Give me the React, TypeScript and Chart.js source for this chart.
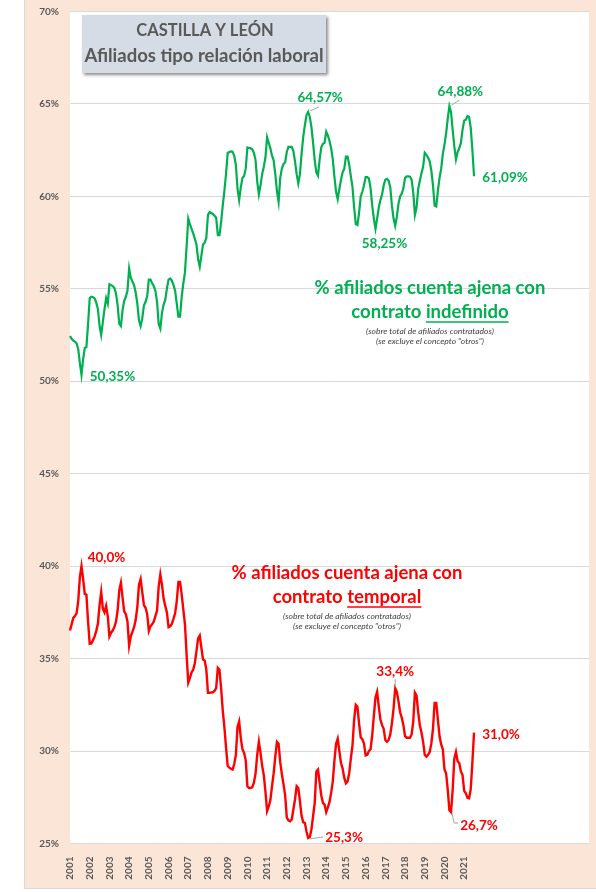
import React, { useEffect, useRef } from 'react';
import { Chart, registerables } from 'chart.js';

Chart.register(...registerables);

// ---------- DATA ----------
const years = ['2001','2002','2003','2004','2005','2006','2007','2008','2009','2010','2011','2012','2013','2014','2015','2016','2017','2018','2019','2020','2021'];
const axisSlots = 317; // monthly category slots on the axis (Excel axis runs beyond the data)

// % afiliados cuenta ajena con contrato indefinido (monthly, Jan 2001 - Jul 2021)
const indefinido = [
  52.45, 52.3, 52.2, 52.15, 52.05, 51.75, 51.0, 50.35, 51.2, 51.8, 51.85, 53.1,
  54.5, 54.57, 54.55, 54.48, 54.25, 53.9, 53.0, 52.5, 53.2, 53.9, 54.5, 54.2,
  55.25, 55.2, 55.15, 55.05, 54.75, 54.1, 53.1, 52.98, 53.85, 54.35, 54.57, 54.9,
  56.1, 55.6, 55.4, 55.2, 54.8, 54.2, 53.3, 52.98, 53.4, 54.1, 54.3, 54.6,
  55.5, 55.5, 55.3, 55.15, 54.9, 54.3, 53.1, 52.85, 53.7, 54.15, 54.4, 55.0,
  55.5, 55.56, 55.45, 55.2, 54.9, 54.2, 53.5, 53.5, 54.57, 55.3, 55.9, 57.3,
  58.8, 58.5, 58.25, 58.0, 57.7, 57.4, 56.6, 56.2, 56.8, 57.4, 57.5, 57.75,
  59.0, 59.15, 59.1, 59.05, 58.95, 58.85, 57.9, 57.9, 58.6, 59.5, 60.3, 61.2,
  62.35, 62.4, 62.43, 62.42, 62.2, 61.7, 60.4, 59.8, 60.5, 61.0, 61.1, 61.5,
  62.65, 62.62, 62.6, 62.55, 62.35, 61.95, 60.8, 60.1, 60.6, 61.2, 61.6, 62.1,
  63.2, 62.9, 62.6, 62.2, 61.95, 61.2, 60.3, 59.7, 61.0, 61.5, 61.75, 61.85,
  62.4, 62.68, 62.68, 62.68, 62.45, 61.9, 61.2, 60.7, 61.2, 62.3, 63.2, 63.85,
  64.4, 64.57, 64.3, 63.75, 62.9, 61.95, 61.3, 61.12, 62.0, 62.65, 62.85, 62.9,
  63.5, 63.3, 63.0, 62.6, 62.0, 61.05, 60.25, 59.85, 60.4, 60.9, 61.3, 61.5,
  62.15, 62.15, 61.7, 61.1, 60.5, 59.4, 58.5, 58.45, 59.1, 60.0, 60.25, 60.6,
  61.05, 61.05, 60.96, 60.45, 59.5, 58.8, 58.25, 58.8, 59.4, 59.8, 60.1, 60.6,
  60.9, 60.95, 60.85, 60.5, 59.5, 58.8, 58.4, 58.9, 59.6, 60.0, 60.15, 60.45,
  61.0, 61.08, 61.08, 61.06, 60.9, 60.2, 59.0, 59.4, 60.4, 60.85, 61.25, 61.6,
  62.36, 62.25, 62.1, 61.9, 61.4, 60.6, 59.5, 59.45, 60.3, 61.0, 61.5, 62.3,
  62.8, 63.4, 64.2, 64.88, 64.55, 63.6, 62.7, 62.0, 62.4, 62.6, 62.9, 63.6,
  64.1, 64.15, 64.35, 64.3, 63.7, 62.5, 61.09,
];

// % afiliados cuenta ajena con contrato temporal
const temporal = [
  36.52, 36.85, 37.2, 37.3, 37.45, 38.1, 39.4, 40.0, 39.3, 38.5, 38.45, 37.0,
  35.8, 35.82, 36.0, 36.2, 36.5, 36.9, 37.9, 38.6, 37.7, 37.5, 37.85, 37.3,
  36.2, 36.4, 36.52, 36.7, 37.0, 37.6, 38.7, 39.1, 38.3, 37.55, 37.4, 37.0,
  35.7, 36.2, 36.45, 36.7, 37.1, 37.8, 39.0, 39.3, 38.6, 37.9, 37.75, 37.4,
  36.5, 36.75, 36.85, 37.0, 37.3, 37.6, 38.9, 39.55, 39.0, 38.25, 37.85, 37.5,
  36.7, 36.75, 36.88, 37.15, 37.45, 38.1, 39.15, 39.15, 38.47, 37.65, 36.85, 35.2,
  33.7, 33.95, 34.25, 34.4, 34.75, 35.4, 36.1, 36.25, 35.58, 34.95, 34.9, 34.4,
  33.15, 33.15, 33.17, 33.18, 33.25, 33.4, 34.5, 34.4, 33.4, 32.2, 31.3, 30.2,
  29.2, 29.1, 29.04, 29.0, 29.3, 29.8, 31.3, 31.6, 30.7, 30.1, 29.9, 29.5,
  28.1, 28.0, 28.0, 28.05, 28.3, 28.8, 29.8, 30.5, 29.9, 29.2, 28.7, 27.8,
  26.75, 27.0, 27.35, 28.1, 28.8, 29.7, 30.5, 30.4, 29.4, 28.75, 28.2, 27.6,
  26.4, 26.25, 26.2, 26.3, 26.84, 27.38, 28.1, 28.0, 27.3, 26.5, 26.15, 26.12,
  25.65, 25.3, 25.35, 25.76, 26.48, 27.2, 28.9, 29.0, 28.3, 27.6, 27.2, 27.1,
  26.7, 26.95, 27.25, 27.74, 28.35, 29.5, 30.4, 30.67, 30.0, 29.35, 29.05, 28.55,
  28.25, 28.35, 28.8, 29.6, 30.3, 31.7, 32.5, 32.4, 31.5, 30.75, 30.63, 30.4,
  29.77, 29.8, 30.0, 30.1, 30.85, 31.9, 32.9, 33.2, 32.4, 31.7, 31.4, 31.2,
  30.6, 30.5, 30.6, 30.9, 31.5, 32.3, 33.4, 33.2, 32.7, 32.1, 31.8, 31.4,
  30.8, 30.72, 30.72, 30.72, 30.9, 31.6, 33.16, 33.0, 32.1, 31.4, 31.0, 30.5,
  29.8, 29.7, 29.8, 29.95, 30.4, 31.2, 32.6, 32.6, 31.7, 30.8, 30.36, 30.1,
  29.0, 28.8, 27.9, 26.8, 26.7, 27.9, 29.6, 29.95, 29.45, 29.35, 28.9, 28.7,
  27.85, 27.72, 27.47, 27.45, 27.95, 29.4, 31.0,
];

const yMin = 25;
const yMax = 70;
const yStep = 5;

// indices of labelled points
const greenCalloutIdx = [145, 231, 246, 186, 7];
const redCalloutIdx = [7, 198, 246, 232, 145];

// ---------- STYLE ----------
const GREEN = '#00B050';
const RED = '#FF0000';
const GREY = '#595959';
const FONT = 'Lato, "Open Sans", sans-serif';

const greenCallouts = [
  { idx: greenCalloutIdx[0], dx: 12, dy: -14, leader: [[2, -1], [11, -5]] },
  { idx: greenCalloutIdx[1], dx: 11, dy: -15, leader: [[2, -1], [10, -6]] },
  { idx: greenCalloutIdx[2], dx: 31, dy: 1, leader: null },
  { idx: greenCalloutIdx[3], dx: 9, dy: 15, leader: null },
  { idx: greenCalloutIdx[4], dx: 31, dy: 2, leader: null },
];
const redCallouts = [
  { idx: redCalloutIdx[0], dx: 25, dy: -9, leader: null },
  { idx: redCalloutIdx[1], dx: 0, dy: -17, leader: [[0, -1], [0, -9]] },
  { idx: redCalloutIdx[2], dx: 27, dy: 2, leader: null },
  { idx: redCalloutIdx[3], dx: 28, dy: 14, leader: [[1, 1], [3, 11], [7, 11]] },
  { idx: redCalloutIdx[4], dx: 36, dy: 0, leader: [[1, 1], [15, -1]] },
];

const fmt = (v: number, d: number) => v.toFixed(d).replace('.', ',') + '%';

const decorPlugin = {
  id: 'decor',
  beforeDraw(chart: any) {
    const { ctx, chartArea, width, height } = chart;
    ctx.save();
    ctx.fillStyle = '#FFFFFF';
    ctx.fillRect(0, 0, width, height);
    ctx.fillStyle = '#FBE5D6';
    ctx.fillRect(24, 0, width - 24, 888);
    ctx.strokeStyle = '#D9D9D9';
    ctx.lineWidth = 1;
    ctx.beginPath();
    ctx.moveTo(24.5, 0);
    ctx.lineTo(24.5, 888.5);
    ctx.lineTo(width, 888.5);
    ctx.stroke();
    ctx.fillStyle = '#FFFFFF';
    ctx.fillRect(chartArea.left, chartArea.top, chartArea.right - chartArea.left, chartArea.bottom - chartArea.top);
    ctx.restore();
  },
  afterDatasetsDraw(chart: any) {
    const { ctx } = chart;
    const drawSet = (dsIndex: number, callouts: any[], color: string, values: number[], dec: number) => {
      const meta = chart.getDatasetMeta(dsIndex);
      callouts.forEach((c) => {
        const p = meta.data[c.idx];
        if (!p) return;
        const x = p.x, y = p.y;
        if (c.leader) {
          ctx.save();
          ctx.strokeStyle = '#A6A6A6';
          ctx.lineWidth = 1;
          ctx.beginPath();
          c.leader.forEach((pt: number[], k: number) => {
            if (k === 0) ctx.moveTo(x + pt[0], y + pt[1]);
            else ctx.lineTo(x + pt[0], y + pt[1]);
          });
          ctx.stroke();
          ctx.restore();
        }
        ctx.save();
        ctx.fillStyle = color;
        ctx.font = `bold 13.5px ${FONT}`;
        ctx.textAlign = 'center';
        ctx.textBaseline = 'middle';
        ctx.fillText(fmt(values[c.idx], dec), x + c.dx, y + c.dy);
        ctx.restore();
      });
    };
    drawSet(0, greenCallouts, GREEN, indefinido, 2);
    drawSet(1, redCallouts, RED, temporal, 1);
  },
  afterDraw(chart: any) {
    const { ctx } = chart;
    ctx.save();
    // title box with shadow
    ctx.shadowColor = 'rgba(0,0,0,0.45)';
    ctx.shadowOffsetX = 2;
    ctx.shadowOffsetY = 2;
    ctx.shadowBlur = 3;
    ctx.fillStyle = '#D6DCE5';
    ctx.fillRect(82, 15, 244, 58);
    ctx.restore();

    ctx.save();
    ctx.fillStyle = GREY;
    ctx.textAlign = 'center';
    ctx.textBaseline = 'middle';
    ctx.font = `bold 16.5px ${FONT}`;
    ctx.fillText('CASTILLA Y LEÓN', 205, 31);
    ctx.font = `bold 18.5px ${FONT}`;
    ctx.fillText('Afiliados tipo relación laboral', 204, 56);
    ctx.restore();

    const block = (cx: number, y1: number, color: string, word: string) => {
      ctx.save();
      ctx.fillStyle = color;
      ctx.strokeStyle = color;
      ctx.textBaseline = 'middle';
      ctx.textAlign = 'center';
      ctx.font = `bold 18.5px ${FONT}`;
      ctx.fillText('% afiliados cuenta ajena con', cx, y1);
      const a = 'contrato ';
      const wa = ctx.measureText(a).width;
      const wb = ctx.measureText(word).width;
      const start = cx - (wa + wb) / 2;
      ctx.textAlign = 'left';
      ctx.fillText(a, start, y1 + 24);
      ctx.fillText(word, start + wa, y1 + 24);
      ctx.lineWidth = 1.5;
      ctx.beginPath();
      ctx.moveTo(start + wa, y1 + 34);
      ctx.lineTo(start + wa + wb, y1 + 34);
      ctx.stroke();
      ctx.fillStyle = '#404040';
      ctx.textAlign = 'center';
      ctx.font = `italic 8.5px ${FONT}`;
      ctx.fillText('(sobre total de afiliados contratados)', cx, y1 + 43);
      ctx.fillText('(se excluye el concepto "otros")', cx, y1 + 53);
      ctx.restore();
    };
    block(430, 288, GREEN, 'indefinido');
    block(347, 573, RED, 'temporal');
  },
};

export default function App() {
  const ref = useRef<HTMLCanvasElement | null>(null);
  useEffect(() => {
    if (!ref.current) return;
    const labels = Array.from({ length: axisSlots }, (_, i) =>
      i % 12 === 0 && years[i / 12] ? years[i / 12] : ''
    );
    const chart = new Chart(ref.current, {
      type: 'line',
      data: {
        labels,
        datasets: [
          {
            label: 'indefinido',
            data: indefinido,
            borderColor: GREEN,
            borderWidth: 2.2,
            pointRadius: 0,
            tension: 0,
            fill: false,
          },
          {
            label: 'temporal',
            data: temporal,
            borderColor: RED,
            borderWidth: 2.4,
            pointRadius: 0,
            tension: 0,
            fill: false,
          },
        ],
      },
      options: {
        animation: false,
        responsive: false,
        devicePixelRatio: 1,
        layout: { padding: { left: 22, right: 7, top: 11.5, bottom: 0 } },
        plugins: { legend: { display: false }, tooltip: { enabled: false }, title: { display: false } },
        scales: {
          x: {
            type: 'category',
            offset: false,
            grid: { display: false, drawTicks: false },
            border: { display: false },
            ticks: {
              autoSkip: false,
              minRotation: 90,
              maxRotation: 90,
              padding: 13,
              color: GREY,
              font: { family: FONT, size: 10, weight: 'bold' },
            },
            afterFit: (s: any) => { s.height = 48.5; s.paddingLeft = 0; s.paddingRight = 0; },
          },
          y: {
            min: yMin,
            max: yMax,
            grid: { color: '#D9D9D9', lineWidth: 1, drawTicks: false },
            border: { display: false },
            ticks: {
              stepSize: yStep,
              padding: 11,
              color: GREY,
              font: { family: FONT, size: 10, weight: 'bold' },
              callback: (v: any) => v + '%',
            },
            afterFit: (s: any) => { s.width = 48; s.paddingTop = 0; s.paddingBottom = 0; },
          },
        },
      },
      plugins: [decorPlugin],
    });
    return () => chart.destroy();
  }, []);
  return (
    <div style={{ position: 'absolute', left: 0, top: 0, width: 596, height: 892 }}>
      <canvas ref={ref} width={596} height={892} style={{ display: 'block', width: 596, height: 892 }} />
    </div>
  );
}
